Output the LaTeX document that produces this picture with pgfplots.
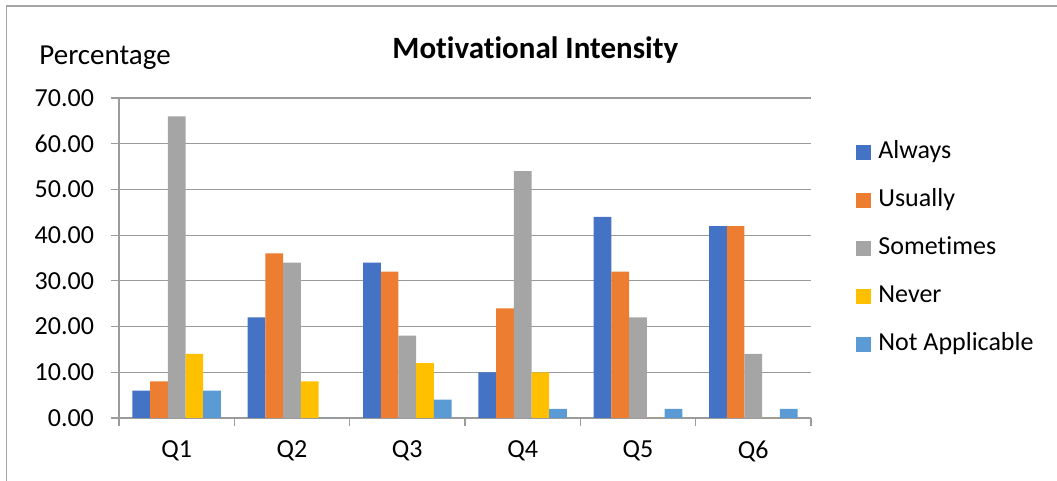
\documentclass[border=0pt]{standalone}
\usepackage{fontspec}
\setmainfont{Carlito}[Ligatures={NoCommon}]
\usepackage{pgfplots}
\pgfplotsset{compat=1.18}
\definecolor{cAlways}{HTML}{4472C4}
\definecolor{cUsually}{HTML}{ED7D31}
\definecolor{cSometimes}{HTML}{A5A5A5}
\definecolor{cNever}{HTML}{FFC000}
\definecolor{cNA}{HTML}{5B9BD5}
\definecolor{gridc}{RGB}{155,155,155}
\definecolor{framec}{RGB}{165,165,165}
\pgfplotstableread{
x Always Usually Sometimes Never NA
0 6  8  66 14 6
1 22 36 34 8  0
2 34 32 18 12 4
3 10 24 54 10 2
4 44 32 22 0  2
5 42 42 14 0  2
}\data
\begin{document}
\begin{tikzpicture}
\path[use as bounding box] (0,0) rectangle (528.5pt,240.5pt);
\draw[framec, line width=0.6pt] (3.3pt,0) -- (3.3pt,237.5pt) -- (528.5pt,237.5pt);
\begin{axis}[
  at={(59.5pt,31.5pt)}, anchor=south west,
  scale only axis, width=346pt, height=160pt,
  ybar=0pt, bar width=0.1535,
  xmin=-0.5, xmax=5.5, ymin=0, ymax=70,
  axis lines=left, axis line style={gridc, line width=0.6pt, -},
  tick align=outside,
  xtick={0,...,5}, xticklabels={Q1,Q2,Q3,Q4,Q5,Q6},
  minor xtick={-0.5,0.5,...,5.5},
  major x tick style={draw=none},
  minor x tick style={gridc, line width=0.6pt},
  minor tick length=4pt,
  ytick={0,10,...,70},
  major y tick style={gridc, line width=0.6pt},
  major tick length=4pt,
  ymajorgrids, grid style={gridc, line width=0.6pt},
  font=\fontsize{13pt}{15pt}\selectfont,
  tick label style={font=\fontsize{13pt}{15pt}\selectfont},
  yticklabel style={xshift=-5pt},
  xticklabel style={yshift=-4pt},
  /pgf/number format/assume math mode=true,
  /pgf/number format/fixed, /pgf/number format/fixed zerofill,
  /pgf/number format/precision=2,
  title={\textbf{Motivational Intensity}},
  title style={at={(axis description cs:0.6015,1)}, anchor=base, yshift=13.85pt, font=\fontsize{15.5pt}{18pt}\selectfont},
  legend style={draw=none, at={(axis description cs:1,1)}, anchor=north west, xshift=19.5pt, yshift=-19pt,
    font=\fontsize{13pt}{15pt}\selectfont,
    nodes={inner sep=0pt, text height=9pt, text depth=3pt, anchor=west},
    row sep=12pt, column sep=3.5pt},
  legend cell align=left,
  legend image code/.code={\fill[#1] (0pt,-3.75pt) rectangle (7.5pt,3.75pt);},
  enlargelimits=false, clip=false,
]
\addplot[fill=cAlways, draw=none] table[x=x,y=Always] {\data};
\addplot[fill=cUsually, draw=none] table[x=x,y=Usually] {\data};
\addplot[fill=cSometimes, draw=none] table[x=x,y=Sometimes] {\data};
\addplot[fill=cNever, draw=none] table[x=x,y=Never] {\data};
\addplot[fill=cNA, draw=none] table[x=x,y=NA] {\data};
\legend{Always,Usually,Sometimes,Never,Not Applicable}
\node[anchor=base west, inner sep=0pt, font=\fontsize{14.5pt}{17pt}\selectfont] at ([xshift=-40pt,yshift=17pt]axis description cs:0,1) {Percentage};
\end{axis}
\end{tikzpicture}
\end{document}
